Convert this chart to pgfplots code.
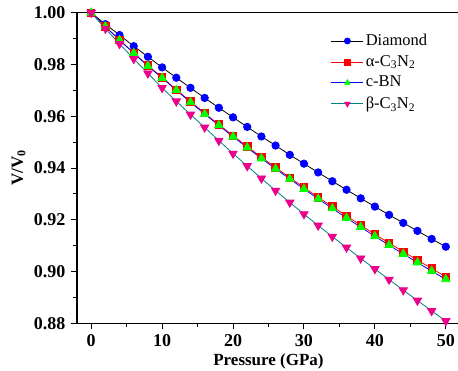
\documentclass[border=0pt]{standalone}
\usepackage{fontspec}
\setmainfont{Liberation Serif}
\usepackage{pgfplots}
\pgfplotsset{compat=1.18}
\definecolor{dteal}{RGB}{0,128,128}
\begin{document}
\fontsize{16.5}{19}\selectfont
\begin{tikzpicture}
\begin{axis}[
  scale only axis,
  width=383pt, height=310.5pt,
  xmin=-2, xmax=52, ymin=0.88, ymax=1.00,
  xtick={0,10,20,30,40,50},
  minor xtick={5,15,25,35,45},
  ytick={0.88,0.90,0.92,0.94,0.96,0.98,1.00},
  minor ytick={0.89,0.91,0.93,0.95,0.97,0.99},
  xtick pos=left, ytick pos=left,
  tick align=outside,
  major tick length=6pt, minor tick length=3.5pt,
  every tick/.style={line width=1pt, black},
  axis line style={line width=1.2pt},
  /pgf/number format/assume math mode=true,
  yticklabel style={/pgf/number format/fixed, /pgf/number format/fixed zerofill, /pgf/number format/precision=2, font=\fontsize{18}{20}\selectfont\bfseries},
  xticklabel style={font=\fontsize{18}{20}\selectfont\bfseries},
  xlabel={\textbf{Pressure (GPa)}},
  ylabel={\textbf{V/V\textsubscript{0}}},
  label style={font=\fontsize{17}{19}\selectfont},
  xlabel style={yshift=5pt},
  ylabel style={yshift=-3pt},
  legend cell align=left,
  legend style={draw=none, fill=none, at={(0.66,0.942)}, anchor=north west, font=\fontsize{16.5}{19}\selectfont, row sep=3.4pt, inner sep=1pt},
  legend image code/.code={\draw[mark repeat=2,mark phase=2,#1,mark size=3pt] plot coordinates {(0pt,0pt)(16pt,0pt)(32pt,0pt)};},
]
\addplot[black, line width=0.8pt, mark=*, mark size=3.7pt, mark options={blue, fill=blue}] coordinates {
(0,1.0000)(2,0.9956)(4,0.9914)(6,0.9871)(8,0.9830)(10,0.9789)(12,0.9749)(14,0.9710)(16,0.9671)(18,0.9633)(20,0.9596)(22,0.9559)(24,0.9522)(26,0.9487)(28,0.9451)(30,0.9417)(32,0.9383)(34,0.9349)(36,0.9316)(38,0.9283)(40,0.9251)(42,0.9219)(44,0.9188)(46,0.9157)(48,0.9126)(50,0.9096)};
\addlegendentry{Diamond}
\addplot[red, line width=0.8pt, mark=square*, mark size=3.7pt, mark options={red, fill=red}] coordinates {
(0,1.0000)(2,0.9947)(4,0.9895)(6,0.9845)(8,0.9796)(10,0.9750)(12,0.9703)(14,0.9657)(16,0.9612)(18,0.9568)(20,0.9525)(22,0.9483)(24,0.9442)(26,0.9402)(28,0.9363)(30,0.9325)(32,0.9287)(34,0.9251)(36,0.9215)(38,0.9179)(40,0.9144)(42,0.9110)(44,0.9077)(46,0.9044)(48,0.9012)(50,0.8980)};
\addlegendentry{α-C\textsubscript{3}N\textsubscript{2}}
\addplot[blue, line width=0.8pt, mark=triangle*, mark size=4.8pt, mark options={green, fill=green}] coordinates {
(0,1.0000)(2,0.9947)(4,0.9894)(6,0.9844)(8,0.9794)(10,0.9748)(12,0.9701)(14,0.9654)(16,0.9609)(18,0.9565)(20,0.9521)(22,0.9479)(24,0.9437)(26,0.9397)(28,0.9358)(30,0.9319)(32,0.9281)(34,0.9244)(36,0.9207)(38,0.9172)(40,0.9136)(42,0.9102)(44,0.9068)(46,0.9035)(48,0.9002)(50,0.8970)};
\addlegendentry{c-BN}
\addplot[dteal, line width=0.8pt, mark=triangle*, mark size=4.8pt, mark options={magenta, fill=magenta, rotate=180}] coordinates {
(0,1.0000)(2,0.9939)(4,0.9880)(6,0.9822)(8,0.9766)(10,0.9710)(12,0.9658)(14,0.9607)(16,0.9557)(18,0.9506)(20,0.9456)(22,0.9408)(24,0.9360)(26,0.9313)(28,0.9267)(30,0.9222)(32,0.9178)(34,0.9135)(36,0.9093)(38,0.9051)(40,0.9010)(42,0.8969)(44,0.8928)(46,0.8888)(48,0.8848)(50,0.8809)};
\addlegendentry{β-C\textsubscript{3}N\textsubscript{2}}
\end{axis}
\pgfresetboundingbox
\path (-77pt,-47.7pt) rectangle (381pt,323.3pt);
\end{tikzpicture}
\end{document}
